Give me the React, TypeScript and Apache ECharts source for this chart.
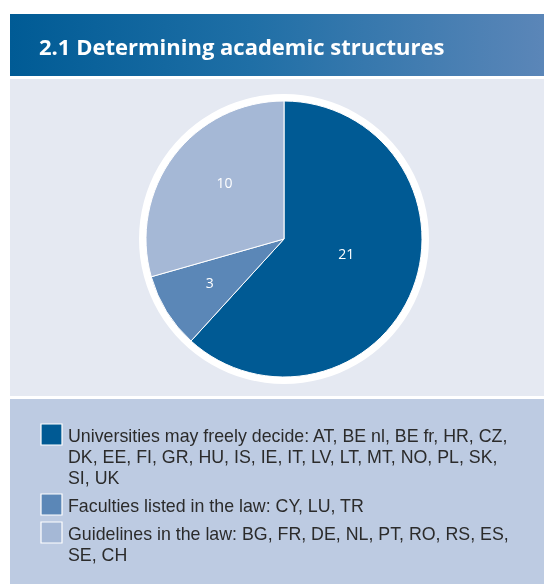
import React, { useEffect, useRef } from "react";
import * as echarts from "echarts";

const title = "2.1 Determining academic structures";
const categories = ["Universities may freely decide", "Faculties listed in the law", "Guidelines in the law"];
const values = [21, 3, 10];
const colors = ["#005a94", "#5b87b7", "#a5b8d6"];
const legendLines = [
  ["Universities may freely decide: AT, BE nl, BE fr, HR, CZ,", "DK, EE, FI, GR, HU, IS, IE, IT, LV, LT, MT, NO, PL, SK,", "SI, UK"],
  ["Faculties listed in the law: CY, LU, TR"],
  ["Guidelines in the law: BG, FR, DE, NL, PT, RO, RS, ES,", "SE, CH"],
];
const labelOffsets = [[-5, -12], [-13, 6], [-2, -13]];

export default function App() {
  const ref = useRef<HTMLDivElement>(null);
  useEffect(() => {
    if (!ref.current) return;
    const chart = echarts.init(ref.current, null, { renderer: "svg" });
    const font = "'Open Sans', sans-serif";
    const legendFont = "'Liberation Sans', Arial, sans-serif";
    const lineH = 21;
    const legendGraphics: any[] = [];
    let y = 424;
    legendLines.forEach((lines, i) => {
      legendGraphics.push({
        type: "rect",
        shape: { x: 41, y: y, width: 21, height: 21 },
        style: { fill: colors[i], stroke: "#ffffff", lineWidth: 1.2 },
      });
      legendGraphics.push({
        type: "text",
        x: 68,
        y: y + 1,
        style: {
          text: lines.join("\n"),
          fill: "#2b2b2b",
          font: `17.8px ${legendFont}`,
          lineHeight: lineH,
          textVerticalAlign: "top",
        },
      });
      y += lines.length * lineH + 7;
    });
    chart.setOption({
      animation: false,
      graphic: [
        {
          type: "rect",
          z: -10,
          shape: { x: 10, y: 14, width: 534, height: 62 },
          style: {
            fill: new echarts.graphic.LinearGradient(0, 0, 1, 0, [
              { offset: 0, color: "#005b95" },
              { offset: 0.45, color: "#1f6fa6" },
              { offset: 1, color: "#5b86b8" },
            ]),
          },
        },
        { type: "rect", z: -10, shape: { x: 10, y: 79, width: 534, height: 317 }, style: { fill: "#e5e9f2" } },
        { type: "rect", z: -10, shape: { x: 10, y: 399, width: 534, height: 185 }, style: { fill: "#bdcbe2" } },
        { type: "circle", z: -5, shape: { cx: 284, cy: 239, r: 145 }, style: { fill: "#ffffff" } },
        {
          type: "text",
          x: 39,
          y: 46,
          style: { text: title, fill: "#ffffff", font: `bold 22px ${font}`, textVerticalAlign: "middle" },
        },
        ...legendGraphics,
      ],
      series: [
        {
          type: "pie",
          center: [284, 239],
          radius: [0, 138],
          startAngle: 90,
          clockwise: true,
          silent: true,
          label: {
            show: true,
            position: "inside",
            color: "#ffffff",
            fontSize: 14,
            fontFamily: font,
            formatter: "{c}",
          },
          labelLine: { show: false },
          itemStyle: { borderColor: "#ffffff", borderWidth: 1 },
          data: categories.map((c, i) => ({
            name: c,
            value: values[i],
            itemStyle: { color: colors[i] },
            label: { offset: labelOffsets[i] },
          })),
        },
      ],
    });
    return () => chart.dispose();
  }, []);
  return <div ref={ref} style={{ position: "fixed", left: 0, top: 0, width: 544, height: 584 }} />;
}
